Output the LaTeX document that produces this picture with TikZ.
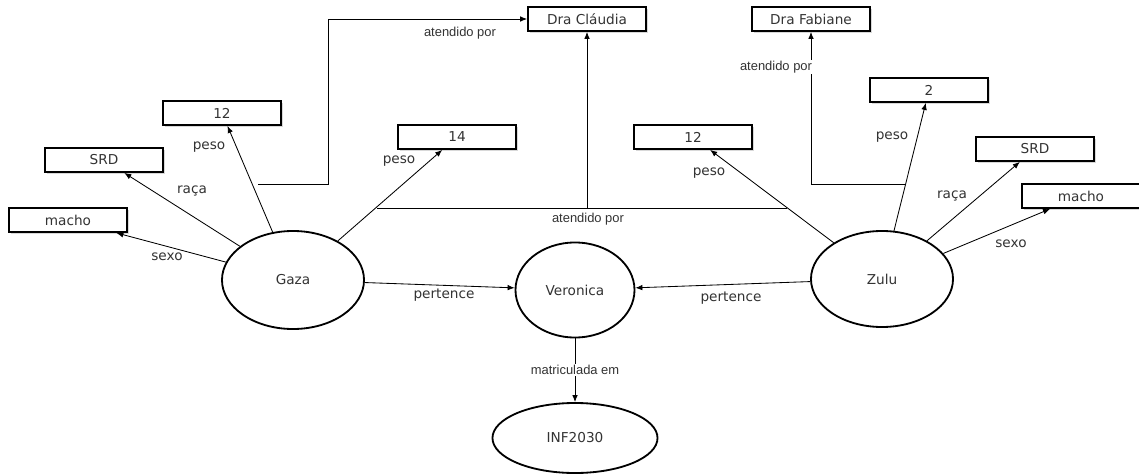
\documentclass[tikz,border=0pt]{standalone}
\usepackage{fontspec}
\setmainfont{DejaVu Sans}
\newfontfamily\lblfont{Liberation Sans}
\usetikzlibrary{shapes.geometric,shadows,arrows.meta}

\tikzset{
  valbox/.style={draw, line width=1.3pt, fill=white, minimum width=2.95cm, minimum height=0.6cm,
    inner sep=0pt, text=black!80, font=\fontsize{9.7}{11}\selectfont,
    drop shadow={shadow xshift=1.2pt, shadow yshift=-1.2pt, fill=black!30}},
  entity/.style={ellipse, draw, line width=1.3pt, fill=white, inner sep=0pt,
    text=black!80, font=\fontsize{9.7}{11}\selectfont},
  rel/.style={-{Latex[length=5pt,width=4pt]}, line width=0.6pt},
  lbl/.style={inner sep=1pt, text=black!80, font=\fontsize{9.7}{11}\selectfont},
  smalllbl/.style={inner sep=1pt, fill=white, text=black!80, font=\lblfont\fontsize{9.2}{11}\selectfont}
}

\begin{document}
\begin{tikzpicture}[x=0.025cm, y=-0.025cm]
    \useasboundingbox (0,0) rectangle (1139,474);

    % animais, dona e turma
    \node[entity, minimum width=3.55cm, minimum height=2.45cm] (gaza) at (293,280) {Gaza};
    \node[entity, minimum width=2.975cm, minimum height=2.375cm] (veronica) at (575,290) {Veronica};
    \node[entity, minimum width=3.55cm, minimum height=2.4cm] (zulu) at (882,279) {Zulu};
    \node[entity, minimum width=4.125cm, minimum height=1.75cm] (inf) at (575,438) {INF2030};

    % valores
    \node[valbox] (gmacho) at (68,220) {macho};
    \node[valbox] (gsrd) at (104,160) {SRD};
    \node[valbox] (gpeso) at (222,113) {12};
    \node[valbox] (gpesob) at (457,137) {14};
    \node[valbox] (claudia) at (587,19) {Dra Cláudia};
    \node[valbox] (fabiane) at (811,19) {Dra Fabiane};
    \node[valbox] (zpesob) at (693,137) {12};
    \node[valbox] (zpeso) at (929,90) {2};
    \node[valbox] (zsrd) at (1035,149) {SRD};
    \node[valbox] (zmacho) at (1081,196) {macho};

    % ligacoes
    \draw[rel] (gaza) -- (gmacho);
    \draw[rel] (gaza) -- (gsrd);
    \draw[rel] (gaza) -- (gpeso);
    \draw[rel] (gaza) -- (gpesob);
    \draw[rel] (zulu) -- (zpesob);
    \draw[rel] (zulu) -- (zpeso);
    \draw[rel] (zulu) -- (zsrd);
    \draw[rel] (zulu) -- (zmacho);
    \draw[rel] (gaza) -- (veronica);
    \draw[rel] (zulu) -- (veronica);
    \draw[rel] (veronica) -- (inf);

    \coordinate (gcla) at (258,184);
    \coordinate (gbend) at (328,184);
    \coordinate (hl) at (377,208);
    \coordinate (hr) at (787,208);
    \coordinate (zfab) at (905,184);
    \draw[rel] (gcla) -- (gbend) |- (claudia);
    \draw[line width=0.6pt] (hl) -- (hr);
    \draw[rel] (claudia.south |- hl) -- (claudia.south);
    \draw[rel] (zfab) -| (fabiane);

    % rotulos
    \node[lbl] (lsexog) at (167,257) {sexo};
    \node[lbl] (lracag) at (192,191) {raça};
    \node[lbl] (lpesog) at (209,147) {peso};
    \node[lbl] (lpesogb) at (399,161) {peso};
    \node[lbl] (lpesozb) at (709,173) {peso};
    \node[lbl] (lpesoz) at (892,137) {peso};
    \node[lbl] (lracaz) at (952,196) {raça};
    \node[lbl] (lsexoz) at (1011,244) {sexo};
    \node[lbl] (lpertg) at (444,295) {pertence};
    \node[lbl] (lpertz) at (731,298) {pertence};
    \node[smalllbl] (latg) at (460,33) {atendido por};
    \node[smalllbl] (latm) at (588,219) {atendido por};
    \node[smalllbl] (latz) at (776,67) {atendido por};
    \node[smalllbl] (lmat) at (575,370) {matriculada em};
\end{tikzpicture}
\end{document}
